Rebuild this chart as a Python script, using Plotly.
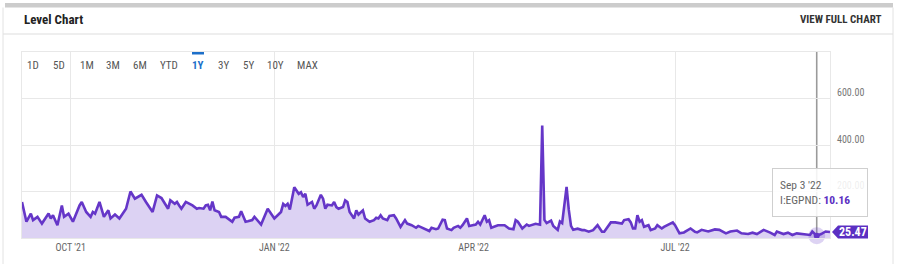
import plotly.graph_objects as go

# ---------------- data ----------------
dates = [
    "2021-09-09", "2021-09-11", "2021-09-13", "2021-09-14", "2021-09-16", "2021-09-18", "2021-09-21",
    "2021-09-22", "2021-09-23", "2021-09-25", "2021-09-27", "2021-09-28", "2021-09-30",
    "2021-10-02", "2021-10-05", "2021-10-06", "2021-10-08", "2021-10-10", "2021-10-11", "2021-10-12",
    "2021-10-14", "2021-10-16", "2021-10-18", "2021-10-19", "2021-10-21", "2021-10-23", "2021-10-26",
    "2021-10-28", "2021-10-30",
    "2021-11-02", "2021-11-04", "2021-11-07", "2021-11-09", "2021-11-11", "2021-11-14", "2021-11-15",
    "2021-11-17", "2021-11-18", "2021-11-19", "2021-11-20", "2021-11-22", "2021-11-25", "2021-11-27",
    "2021-11-28", "2021-11-30",
    "2021-12-01", "2021-12-02", "2021-12-03", "2021-12-04", "2021-12-05", "2021-12-07", "2021-12-08",
    "2021-12-10", "2021-12-11", "2021-12-13", "2021-12-14", "2021-12-16", "2021-12-17", "2021-12-19",
    "2021-12-20", "2021-12-22", "2021-12-23", "2021-12-25", "2021-12-26", "2021-12-29",
    "2022-01-01", "2022-01-04", "2022-01-05", "2022-01-06", "2022-01-07", "2022-01-08", "2022-01-09",
    "2022-01-10", "2022-01-12", "2022-01-13", "2022-01-14", "2022-01-15", "2022-01-16", "2022-01-18",
    "2022-01-19", "2022-01-20", "2022-01-22", "2022-01-23", "2022-01-24", "2022-01-25", "2022-01-27",
    "2022-01-28", "2022-01-29", "2022-01-30",
    "2022-02-01", "2022-02-02", "2022-02-03", "2022-02-04", "2022-02-06", "2022-02-07", "2022-02-08",
    "2022-02-10", "2022-02-11", "2022-02-13", "2022-02-15", "2022-02-16", "2022-02-17", "2022-02-18",
    "2022-02-19", "2022-02-21", "2022-02-22", "2022-02-24", "2022-02-25", "2022-02-27",
    "2022-03-01", "2022-03-02", "2022-03-04", "2022-03-06", "2022-03-07", "2022-03-09", "2022-03-10",
    "2022-03-12", "2022-03-13", "2022-03-15", "2022-03-16", "2022-03-18", "2022-03-19", "2022-03-20",
    "2022-03-22", "2022-03-23", "2022-03-25", "2022-03-26", "2022-03-27", "2022-03-29", "2022-03-30",
    "2022-03-31",
    "2022-04-02", "2022-04-03", "2022-04-04", "2022-04-06", "2022-04-07", "2022-04-08", "2022-04-09",
    "2022-04-12", "2022-04-15", "2022-04-17", "2022-04-19", "2022-04-20", "2022-04-21", "2022-04-23",
    "2022-04-25", "2022-04-26", "2022-04-28", "2022-04-29",
    "2022-05-01", "2022-05-02", "2022-05-03", "2022-05-04", "2022-05-06", "2022-05-07", "2022-05-09",
    "2022-05-10", "2022-05-11", "2022-05-12", "2022-05-13", "2022-05-14", "2022-05-15", "2022-05-16",
    "2022-05-18", "2022-05-20", "2022-05-21", "2022-05-23", "2022-05-25", "2022-05-27", "2022-05-29",
    "2022-05-30",
    "2022-06-01", "2022-06-02", "2022-06-04", "2022-06-07", "2022-06-08", "2022-06-10", "2022-06-11",
    "2022-06-12", "2022-06-13", "2022-06-14", "2022-06-15", "2022-06-16", "2022-06-17", "2022-06-19",
    "2022-06-20", "2022-06-22", "2022-06-23", "2022-06-25", "2022-06-26", "2022-06-28", "2022-06-30",
    "2022-07-01", "2022-07-03", "2022-07-05", "2022-07-07", "2022-07-08", "2022-07-10", "2022-07-11",
    "2022-07-13", "2022-07-16", "2022-07-19", "2022-07-21", "2022-07-24", "2022-07-26", "2022-07-29",
    "2022-07-31",
    "2022-08-03", "2022-08-05", "2022-08-07", "2022-08-10", "2022-08-13", "2022-08-15", "2022-08-16",
    "2022-08-19", "2022-08-21", "2022-08-23", "2022-08-25", "2022-08-28", "2022-08-31",
    "2022-09-01", "2022-09-03", "2022-09-05", "2022-09-07", "2022-09-09",
]

values = [
    155, 70, 105, 77, 91, 62, 105, 84, 98, 55, 140, 91, 105,
    70, 140, 155, 112, 91, 112, 105, 155, 91, 119, 84, 101, 84, 126, 200, 169,
    186, 155, 112, 183, 172, 126, 162, 147, 155, 140, 126, 155, 140, 126, 129, 126,
    140, 143, 119, 157, 119, 112, 91, 91, 84, 70, 87, 91, 115, 70, 72, 77, 91, 70, 58, 126,
    84, 112, 147, 138, 147, 123, 169, 218, 190, 197, 176, 190, 143, 155, 126, 140, 186, 169, 126, 143,
    140, 155, 133, 126,
    133, 162, 155, 112, 84, 119, 101, 119, 84, 70, 77, 87, 84, 98, 84, 77, 95, 98, 84, 48,
    77, 62, 55, 44, 52, 44, 38, 30, 44, 38, 41, 79, 77, 41, 34, 44, 52, 44, 55, 84, 52, 55,
    58, 70, 58, 98, 70, 77, 44, 55, 55, 41, 38, 77, 70, 41, 58, 52, 58, 61,
    57, 484, 78, 64, 75, 52, 35, 71, 64, 140, 220, 122, 52, 35, 40, 34, 34, 27, 34, 55, 27, 27,
    55, 67, 67, 62, 77, 81, 67, 41, 41, 98, 70, 77, 48, 55, 34, 41, 55, 41, 48, 58, 67,
    55, 20, 24, 34, 41, 27, 24, 35, 28, 37, 35, 20, 28, 32, 20,
    17, 23, 17, 35, 23, 13, 28, 17, 23, 13, 20, 17, 13,
    28, 10.16, 17, 28, 25.47,
]

x_tick_dates = ["2021-10-01", "2022-01-01", "2022-04-01", "2022-07-01"]
x_tick_labels = ["OCT '21", "JAN '22", "APR '22", "JUL '22"]
y_max = 800
y_tick_vals = [0, 200, 400, 600, 800]
y_tick_labels = ["", "200.00", "400.00", "600.00", ""]

cursor_date = "2022-09-03"
cursor_label = "Sep 3 '22"
series_name = "I:EGPND"
cursor_value = 10.16
last_date = dates[-1]
last_value = values[-1]

range_buttons = ["1D", "5D", "1M", "3M", "6M", "YTD", "1Y", "3Y", "5Y", "10Y", "MAX"]
button_centers = [33, 59, 87, 113, 140, 169, 198, 223, 248, 275, 307]  # pixel x of button labels
active_button = "1Y"

# ---------------- layout geometry ----------------
W, H = 899, 264
ML, MR, MT, MB = 22, 69, 52, 26
PW = W - ML - MR
PH = H - MT - MB


def px(X):
    return (X - ML) / PW


def py(Y):
    return (H - MB - Y) / PH


FONT = "Roboto Condensed, Liberation Sans Narrow, DejaVu Sans Condensed, Roboto, sans-serif"
LINE = "#6536C8"
FILL = "#DCD2F3"
GRID = "#E8E8E8"
TAG = "#5B2FC2"

fig = go.Figure()

fig.add_trace(go.Scatter(
    x=dates, y=values, mode="lines",
    line=dict(color=LINE, width=2.6),
    fill="tozeroy", fillcolor=FILL,
))
# cursor halo + point
fig.add_trace(go.Scatter(
    x=[cursor_date], y=[cursor_value], mode="markers",
    marker=dict(size=17, color="rgba(101,54,200,0.22)", line=dict(width=0)),
    cliponaxis=False,
))
fig.add_trace(go.Scatter(
    x=[cursor_date], y=[cursor_value], mode="markers",
    marker=dict(size=6, color=LINE, line=dict(width=0)),
    cliponaxis=False,
))

last_frac = last_value / y_max  # vertical position of last value inside the plot (paper units)

shapes = [
    # top grey bar
    dict(type="rect", xref="paper", yref="paper", x0=px(5), x1=px(893), y0=py(7.5), y1=py(3),
         fillcolor="#CCCCCC", line=dict(width=0), layer="above"),
    # header separator
    dict(type="line", xref="paper", yref="paper", x0=px(3), x1=px(893), y0=py(34), y1=py(34),
         line=dict(color="#DDDDDD", width=1)),
    # outer borders
    dict(type="line", xref="paper", yref="paper", x0=px(3), x1=px(3), y0=py(7.5), y1=py(264),
         line=dict(color="#E2E2E2", width=1)),
    dict(type="line", xref="paper", yref="paper", x0=px(893), x1=px(893), y0=py(7.5), y1=py(264),
         line=dict(color="#E2E2E2", width=1)),
    # active range underline
    dict(type="rect", xref="paper", yref="paper", x0=px(192), x1=px(204), y0=py(54.5), y1=py(52),
         fillcolor="#1C6FC9", line=dict(width=0)),
    # cursor line
    dict(type="line", xref="x", yref="paper", x0=cursor_date, x1=cursor_date, y0=0, y1=1,
         line=dict(color="#9A9A9A", width=1.6), layer="between"),
    # last value tag (arrow pointing at the last value, right edge of plot)
    dict(type="path", xref="paper", yref="paper", xsizemode="pixel", ysizemode="pixel",
         xanchor=1, yanchor=last_frac,
         path="M 2 0 L 8 6.5 L 38 6.5 L 38 -6.5 L 8 -6.5 Z",
         fillcolor=TAG, line=dict(width=0), layer="above"),
]

annotations = [
    dict(text="<b>Level Chart</b>", xref="paper", yref="paper", x=px(22), y=py(20),
         xanchor="left", yanchor="middle", showarrow=False,
         font=dict(family=FONT, size=13, color="#222222")),
    dict(text="<b>VIEW FULL CHART</b>", xref="paper", yref="paper", x=px(884), y=py(20),
         xanchor="right", yanchor="middle", showarrow=False,
         font=dict(family=FONT, size=11, color="#333333")),
    dict(text="<b>%s</b>" % last_value, xref="paper", yref="paper", x=1, y=last_frac,
         xanchor="center", yanchor="middle", xshift=23, showarrow=False,
         font=dict(family=FONT, size=12, color="white")),
    dict(text="%s<br>%s: <b><span style='color:#5B2FC2'>%s</span></b>" % (cursor_label, series_name, cursor_value),
         xref="paper", yref="paper", x=px(772), y=py(168), xanchor="left", yanchor="top",
         showarrow=False, align="left", width=80, height=33, borderpad=7,
         bgcolor="rgba(255,255,255,0.88)", bordercolor="#CFCFCF", borderwidth=1,
         font=dict(family=FONT, size=11.5, color="#666666")),
]
for lbl, cx in zip(range_buttons, button_centers):
    active = lbl == active_button
    annotations.append(dict(
        text="<b>%s</b>" % lbl if active else lbl,
        xref="paper", yref="paper", x=px(cx), y=py(65.5), xanchor="center", yanchor="middle",
        showarrow=False,
        font=dict(family=FONT, size=11, color="#1C6FC9" if active else "#555555")))

fig.update_layout(
    width=W, height=H,
    margin=dict(l=ML, r=MR, t=MT, b=MB),
    paper_bgcolor="white", plot_bgcolor="white",
    showlegend=False, hovermode=False,
    font=dict(family=FONT),
    shapes=shapes, annotations=annotations,
    xaxis=dict(
        type="date", range=[dates[0], last_date],
        tickvals=x_tick_dates, ticktext=x_tick_labels,
        showgrid=True, gridcolor=GRID, gridwidth=1, ticks="",
        tickfont=dict(family=FONT, size=10, color="#666666"),
        showline=True, linecolor=GRID, mirror=True, zeroline=False,
    ),
    yaxis=dict(
        range=[0, y_max], tickvals=y_tick_vals, ticktext=y_tick_labels,
        side="right", showgrid=True, gridcolor=GRID, gridwidth=1, ticks="",
        tickfont=dict(family=FONT, size=10, color="#777777"),
        ticklabelshift=-6, ticklabelstandoff=4,
        showline=True, linecolor=GRID, mirror=True, zeroline=False,
    ),
)

fig.write_html("out.html")
